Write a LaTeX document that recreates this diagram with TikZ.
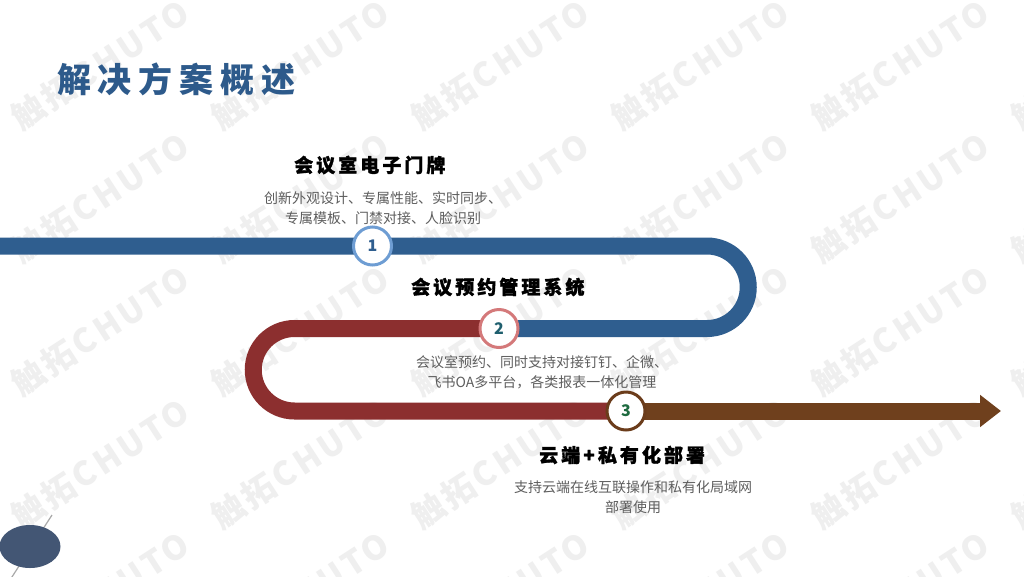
\documentclass[tikz,border=0pt]{standalone}
\usepackage{fontspec}
\setmainfont{Noto Sans CJK SC}
\newfontfamily\titlefont{Noto Sans CJK SC}[LetterSpace=20]
\newfontfamily\headfont{Noto Sans CJK SC}[LetterSpace=16, BoldFeatures={FakeBold=1.5}]
\newfontfamily\wmfont{Noto Sans CJK SC}[LetterSpace=10]
\usetikzlibrary{arrows.meta}
\definecolor{titleblue}{HTML}{2D5A8B}
\definecolor{trackblue}{HTML}{2F5E8F}
\definecolor{trackred}{HTML}{8C2F2F}
\definecolor{trackbrown}{HTML}{6F401D}
\definecolor{ringone}{HTML}{6E9DD3}
\definecolor{ringtwo}{HTML}{D4797A}
\definecolor{ringthree}{HTML}{6B3C1B}
\definecolor{numone}{HTML}{2F5E8F}
\definecolor{numtwo}{HTML}{1F5F6E}
\definecolor{numthree}{HTML}{1E6A3F}
\definecolor{descgray}{HTML}{5E5E5E}
\definecolor{wmgray}{HTML}{EFEFEF}
\definecolor{blobblue}{HTML}{435674}
\definecolor{stickgray}{HTML}{A9A9A9}
\begin{document}
\begin{tikzpicture}[x=1pt, y=-1pt,
    band/.style={line width=17pt},
    stop/.style={circle, draw, line width=3pt, fill=white, minimum size=38pt, inner sep=0pt,
      font=\bfseries\fontsize{16}{16}\selectfont},
    head/.style={anchor=west, inner sep=0pt, font=\headfont\bfseries\fontsize{19}{19}\selectfont},
    desc/.style={align=center, inner sep=0pt, text=descgray, font=\fontsize{14}{20}\selectfont},
    wmark/.style={rotate=33, inner sep=0pt, text=wmgray, font=\wmfont\bfseries\fontsize{33}{33}\selectfont}]
  \useasboundingbox (0,0) rectangle (1024,576);
  \fill[white] (0,0) rectangle (1024,576);
  % watermark
  \begin{scope}
    \clip (0,0) rectangle (1024,576);
    \foreach \wx in {100,300,...,1100}
      \foreach \wy in {-68,65,198,331,464,597}
        \node[wmark] at (\wx,\wy) {触拓CHUTO};
  \end{scope}
  \node[anchor=west, inner sep=0pt, text=titleblue, font=\titlefont\bfseries\fontsize{34}{34}\selectfont]
    (title) at (57,79) {解决方案概述};
  % track
  \coordinate (p0) at (0,246);
  \coordinate (p1) at (372.5,246);
  \coordinate (turnR) at (707,246);
  \coordinate (p2) at (499,328.5);
  \coordinate (turnL) at (294.5,328.5);
  \coordinate (p3) at (626,411);
  \coordinate (tip) at (1001,411);
  \draw[band, trackblue] (p0) -- (turnR) arc[start angle=-90, end angle=90, radius=41.25] -- (p2);
  \draw[band, trackred] (p2) -- (turnL) arc[start angle=-90, end angle=-270, radius=41.25] -- (p3);
  \draw[band, trackbrown, -{Triangle[length=21pt, width=31pt]}] (p3) -- (tip);
  \node[stop, draw=ringone, text=numone] (c1) at (p1) {1};
  \node[stop, draw=ringtwo, text=numtwo] (c2) at (p2) {2};
  \node[stop, draw=ringthree, text=numthree] (c3) at (p3) {3};
  % labels
  \node[head] (head1) at (294,165) {会议室电子门牌};
  \node[desc] (desc1) at (383,208) {创新外观设计、专属性能、实时同步、\\专属模板、门禁对接、人脸识别};
  \node[head] (head2) at (411,287) {会议预约管理系统};
  \node[desc] (desc2) at (542,372.5) {会议室预约、同时支持对接钉钉、企微、\\飞书OA多平台，各类报表一体化管理};
  \node[head] (head3) at (539,455) {云端+私有化部署};
  \node[desc] (desc3) at (633,497.5) {支持云端在线互联操作和私有化局域网\\部署使用};
  % corner
  \draw[stickgray, line width=1.2pt] (10,580) -- (52,515);
  \fill[blobblue] (30,546.5) ellipse[x radius=30.5, y radius=21.5];
\end{tikzpicture}
\end{document}
